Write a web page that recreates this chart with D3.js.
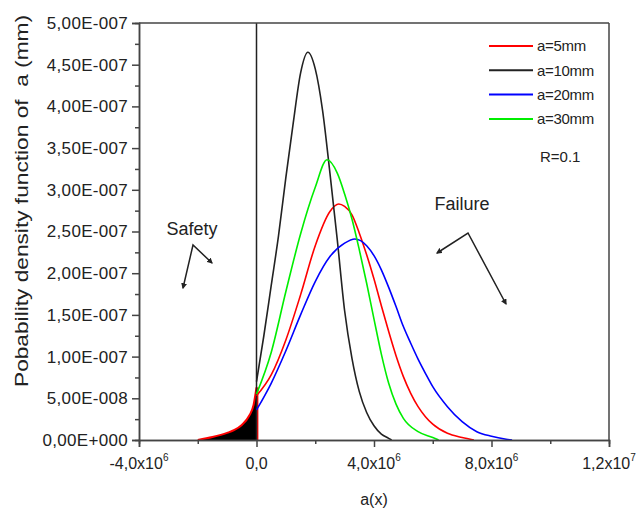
<!DOCTYPE html>
<html>
<head>
<meta charset="utf-8">
<script src="https://cdn.jsdelivr.net/npm/d3@7"></script>
<style>
  body { margin: 0; background: #fff; }
  text { font-family: "Liberation Sans", Arial, sans-serif; fill: #222; }
</style>
</head>
<body>
<div id="chart"></div>
<script>
// data (x in units of 1e6, y in units of 1e-8)
var redX   = [0, 0.5, 1.0, 1.5, 2.0, 2.5, 2.8, 3.0, 3.25, 3.5, 3.75, 4.0, 4.25, 4.5, 4.75, 5.0, 5.25, 5.5, 5.75, 6.0, 6.5, 7.0, 7.4];
var redY   = [5.3, 7.8, 12, 17.4, 23.3, 27.4, 28.3, 28.0, 27.0, 24.8, 22.2, 19.3, 16.1, 13.0, 10.1, 7.6, 5.6, 4.0, 2.8, 1.9, 0.8, 0.3, 0];
var blackX = [0, 0.25, 0.5, 0.75, 1.0, 1.25, 1.5, 1.75, 2.0, 2.25, 2.5, 2.75, 3.0, 3.25, 3.5, 3.75, 4.0, 4.25, 4.5, 4.6];
var blackY = [7, 12.5, 18.5, 24.5, 31.5, 38, 44, 46.5, 44.5, 39.5, 32, 24, 15.5, 9.8, 5.8, 3.3, 1.7, 0.7, 0.2, 0];
var blueX  = [0, 0.5, 1.0, 1.5, 2.0, 2.5, 3.0, 3.35, 3.75, 4.0, 4.25, 4.5, 4.75, 5.0, 5.25, 5.5, 5.75, 6.0, 6.5, 7.0, 7.5, 8.0, 8.5, 8.7];
var blueY  = [3.6, 6.8, 10.7, 15, 19, 22, 23.6, 24.1, 23.3, 22.1, 20.4, 18.3, 16.0, 13.6, 11.6, 9.7, 8.0, 6.4, 4.0, 2.2, 1.0, 0.45, 0.1, 0];
var greenX = [0, 0.5, 1.0, 1.5, 2.0, 2.4, 2.75, 3.0, 3.25, 3.5, 3.75, 4.0, 4.25, 4.5, 4.75, 5.0, 5.5, 6.0, 6.2];
var greenY = [5.5, 10.5, 17.8, 24.7, 30.3, 33.6, 32.0, 29.5, 26.5, 22.8, 18.8, 14.5, 10.3, 6.8, 4.3, 2.6, 1.0, 0.3, 0];
// shaded "safety" tail below zero
var tailX  = [-2.0, -1.5, -1.0, -0.75, -0.5, -0.25, -0.1, 0];
var tailY  = [0, 0.35, 0.85, 1.2, 1.8, 2.9, 4.2, 6.3];

var seriesNames  = ["a=5mm", "a=10mm", "a=20mm", "a=30mm"];
var seriesColors = ["#ff0000", "#222222", "#0000ff", "#00ee00"];

var yTicks      = [0, 5, 10, 15, 20, 25, 30, 35, 40, 45, 50];
var yTickLabels = ["0,00E+000", "5,00E-008", "1,00E-007", "1,50E-007", "2,00E-007", "2,50E-007",
                   "3,00E-007", "3,50E-007", "4,00E-007", "4,50E-007", "5,00E-007"];
var xTicks      = [-4, 0, 4, 8, 12];
var xTickBase   = ["-4,0x10", "0,0", "4,0x10", "8,0x10", "1,2x10"];
var xTickExp    = ["6", "", "6", "6", "7"];

var width = 638, height = 508;
var margin = {top: 23, right: 29, bottom: 68, left: 139};

var svg = d3.select("#chart").append("svg")
    .attr("width", width)
    .attr("height", height);

var x = d3.scaleLinear().domain([-4, 12]).range([margin.left, width - margin.right]);
var y = d3.scaleLinear().domain([0, 50]).range([height - margin.bottom, margin.top]);

function zipPts(xs, ys) { return xs.map(function(d, i) { return [d, ys[i]]; }); }

var series = [zipPts(redX, redY), zipPts(blackX, blackY), zipPts(blueX, blueY), zipPts(greenX, greenY)];

var line = d3.line()
    .x(function(d) { return x(d[0]); })
    .y(function(d) { return y(d[1]); })
    .curve(d3.curveMonotoneX);

// safety tail (filled black, red outline)
var area = d3.area()
    .x(function(d) { return x(d[0]); })
    .y0(y(0))
    .y1(function(d) { return y(d[1]); })
    .curve(d3.curveMonotoneX);
var tail = zipPts(tailX, tailY);
svg.append("path").datum(tail)
    .attr("d", area).attr("fill", "#000");
svg.append("path").datum(tail)
    .attr("d", line).attr("fill", "none").attr("stroke", "#ff0000").attr("stroke-width", 2);
svg.append("line")
    .attr("x1", x(0) + 1).attr("x2", x(0) + 1)
    .attr("y1", y(0)).attr("y2", y(6.3))
    .attr("stroke", "#ff0000").attr("stroke-width", 1.8);

// frame + vertical line at zero
svg.append("line")
    .attr("x1", x(0)).attr("x2", x(0)).attr("y1", y(50)).attr("y2", y(0))
    .attr("stroke", "#222").attr("stroke-width", 1.5);
svg.append("line")
    .attr("x1", x(-4)).attr("x2", x(12)).attr("y1", y(50)).attr("y2", y(50))
    .attr("stroke", "#444").attr("stroke-width", 1.5);
svg.append("line")
    .attr("x1", x(12)).attr("x2", x(12)).attr("y1", y(50)).attr("y2", y(0))
    .attr("stroke", "#444").attr("stroke-width", 1.5);

// curves
svg.selectAll("path.curve")
    .data(series)
    .enter().append("path")
    .attr("class", "curve")
    .attr("d", line)
    .attr("fill", "none")
    .attr("stroke", function(d, i) { return seriesColors[i]; })
    .attr("stroke-width", 1.6);

// y axis
var yMinor = d3.axisLeft(y).tickValues(d3.range(2.5, 50, 5)).tickSize(4).tickFormat("");
svg.append("g").attr("transform", "translate(" + margin.left + ",0)").call(yMinor);
var yAxis = d3.axisLeft(y).tickValues(yTicks).tickSize(7).tickPadding(4)
    .tickFormat(function(d, i) { return yTickLabels[i]; });
var gy = svg.append("g").attr("transform", "translate(" + margin.left + ",0)").call(yAxis);
gy.selectAll("text").style("font-size", "17px").attr("letter-spacing", "0.3px");

// x axis
var xMinor = d3.axisBottom(x).tickValues([-2, 2, 6, 10]).tickSize(4).tickFormat("");
svg.append("g").attr("transform", "translate(0," + y(0) + ")").call(xMinor);
var xAxis = d3.axisBottom(x).tickValues(xTicks).tickSize(7).tickFormat("");
svg.append("g").attr("transform", "translate(0," + y(0) + ")").call(xAxis);

svg.selectAll(".domain, .tick line").attr("stroke", "#444").attr("stroke-width", 1.5);

var xl = svg.append("g").selectAll("text")
    .data(xTicks)
    .enter().append("text")
    .attr("x", function(d) { return x(d); })
    .attr("y", 469)
    .attr("text-anchor", "middle")
    .style("font-size", "16px");
xl.append("tspan").text(function(d, i) { return xTickBase[i]; });
xl.append("tspan")
    .attr("dy", -8)
    .style("font-size", "10px")
    .text(function(d, i) { return xTickExp[i]; });

// axis titles
svg.append("text")
    .attr("x", x(4)).attr("y", 505)
    .attr("text-anchor", "middle")
    .style("font-size", "16px")
    .text("a(x)");
svg.append("text")
    .attr("transform", "translate(28," + 201 + ") rotate(-90)")
    .attr("text-anchor", "middle")
    .attr("textLength", 372)
    .attr("lengthAdjust", "spacingAndGlyphs")
    .style("font-size", "19px")
    .text("Pobability density function of \u00a0a (mm)");

// legend
var legend = svg.selectAll("g.legendEntry")
    .data(seriesNames)
    .enter().append("g").attr("class", "legendEntry");
legend.append("line")
    .attr("x1", 489).attr("x2", 533)
    .attr("y1", function(d, i) { return 46 + i * 24.3; })
    .attr("y2", function(d, i) { return 46 + i * 24.3; })
    .attr("stroke", function(d, i) { return seriesColors[i]; })
    .attr("stroke-width", 2);
legend.append("text")
    .attr("x", 537)
    .attr("y", function(d, i) { return 46 + i * 24.3; })
    .attr("dy", "0.35em")
    .style("font-size", "15px")
    .attr("letter-spacing", "-0.3px")
    .text(function(d) { return d; });
svg.append("text")
    .attr("x", 540).attr("y", 162)
    .style("font-size", "15px")
    .text("R=0.1");

// annotations
var defs = svg.append("defs");
defs.append("marker")
    .attr("id", "arrow")
    .attr("viewBox", "0 0 10 10")
    .attr("refX", 8).attr("refY", 5)
    .attr("markerWidth", 4).attr("markerHeight", 4)
    .attr("orient", "auto-start-reverse")
    .append("path").attr("d", "M0,0 L10,5 L0,10 z").attr("fill", "#222");

svg.append("text")
    .attr("x", 192).attr("y", 235)
    .attr("text-anchor", "middle")
    .style("font-size", "18px")
    .text("Safety");
svg.append("polyline")
    .attr("points", "183,288 193,245 212,263")
    .attr("fill", "none").attr("stroke", "#222").attr("stroke-width", 1.5)
    .attr("marker-start", "url(#arrow)").attr("marker-end", "url(#arrow)");

svg.append("text")
    .attr("x", 462).attr("y", 210)
    .attr("text-anchor", "middle")
    .style("font-size", "18px")
    .text("Failure");
svg.append("polyline")
    .attr("points", "437,253 468,233 506,304")
    .attr("fill", "none").attr("stroke", "#222").attr("stroke-width", 1.5)
    .attr("marker-start", "url(#arrow)").attr("marker-end", "url(#arrow)");
</script>
</body>
</html>
